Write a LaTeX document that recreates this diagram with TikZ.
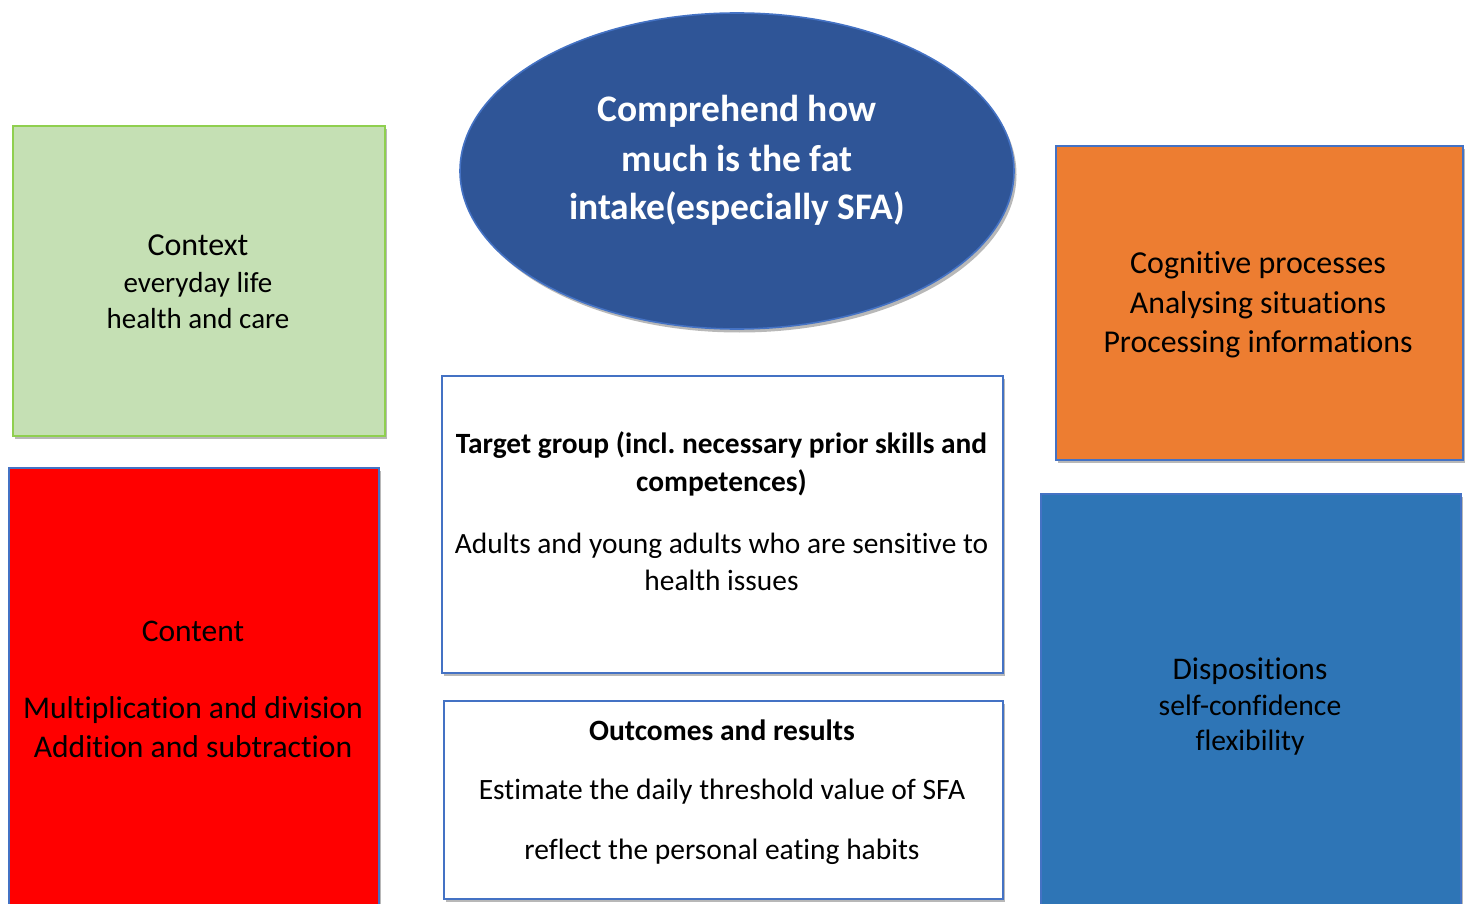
\documentclass[tikz,border=0pt]{standalone}
\usepackage{fontspec}
\setmainfont{Carlito}[Ligatures=NoCommon]
\usetikzlibrary{shapes.geometric,shadows}
\definecolor{bordblue}{HTML}{4472C4}
\definecolor{ctxfill}{HTML}{C5E0B4}
\definecolor{ctxborder}{HTML}{8FCF4F}
\definecolor{cogfill}{HTML}{ED7D31}
\definecolor{confill}{HTML}{FF0000}
\definecolor{disfill}{HTML}{2E75B6}
\definecolor{ellfill}{HTML}{2F5597}
\frenchspacing
\begin{document}
\begin{tikzpicture}[x=1pt,y=-1pt,
  shade/.style={drop shadow={shadow xshift=2.5pt,shadow yshift=-3.5pt,opacity=0.28,fill=black}},
  box/.style={draw=bordblue,line width=1.6pt,anchor=north west,inner sep=0pt,shade},
  line/.style={anchor=base,inner sep=0pt,font=\fontsize{#1}{#1}\selectfont},
  bline/.style={anchor=base,inner sep=0pt,font=\fontsize{#1}{#1}\selectfont\bfseries},
]
\useasboundingbox (0,0) rectangle (1468,904);
\clip (0,0) rectangle (1468,904);
\fill[white] (0,0) rectangle (1468,904);

% boxes
\node[box,draw=ctxborder,fill=ctxfill,minimum width=372pt,minimum height=310pt] (context) at (12,125) {};
\node[box,fill=cogfill,minimum width=407pt,minimum height=314pt] (cognitive) at (1055,145) {};
\node[box,fill=confill,minimum width=370pt,minimum height=460pt] (content) at (8,467) {};
\node[box,fill=white,minimum width=561pt,minimum height=297pt] (target) at (441,375) {};
\node[box,fill=white,minimum width=559pt,minimum height=198pt] (outcomes) at (443,700) {};
\node[box,fill=disfill,minimum width=420pt,minimum height=430pt] (dispositions) at (1040,493) {};
\node[ellipse,draw=bordblue,line width=1.6pt,fill=ellfill,shade,minimum width=554pt,minimum height=316pt,inner sep=0pt] (goal) at (737,171) {};

% ellipse text
\node[bline=37.5,text=white] (g1) at (737,122) {Comprehend how};
\node[bline=37.5,text=white] (g2) at (737,172) {much is the fat};
\node[bline=37.5,text=white] (g3) at (737,220) {intake(especially SFA)};

% context
\node[line=32] (c1) at (198,256) {Context};
\node[line=29] (c2) at (198,292) {everyday life};
\node[line=29] (c3) at (198,328) {health and care};

% cognitive
\node[line=32] (k1) at (1258,274) {Cognitive processes};
\node[line=31.8] (k2) at (1258,313) {Analysing situations};
\node[line=31.8] (k3) at (1258,352) {Processing informations};

% content
\node[line=31.5] (n1) at (193,641) {Content};
\node[line=31.6] (n2) at (193,718) {Multiplication and division};
\node[line=31.6] (n3) at (193,757) {Addition and subtraction};

% target group
\node[bline=29.4] (t1) at (721.5,453) {Target group (incl. necessary prior skills and};
\node[bline=29.4] (t2) at (721.5,491) {competences)};
\node[line=29.4] (t3) at (721.5,553) {Adults and young adults who are sensitive to};
\node[line=29.4] (t4) at (721.5,590) {health issues};

% outcomes
\node[bline=29.5] (o1) at (722,740) {Outcomes and results};
\node[line=29.5] (o2) at (722,799) {Estimate the daily threshold value of SFA};
\node[line=29.5] (o3) at (722,859) {reflect the personal eating habits};

% dispositions
\node[line=31.5] (d1) at (1250,679) {Dispositions};
\node[line=29.6] (d2) at (1250,715) {self-confidence};
\node[line=29.6] (d3) at (1250,750) {flexibility};
\end{tikzpicture}
\end{document}
